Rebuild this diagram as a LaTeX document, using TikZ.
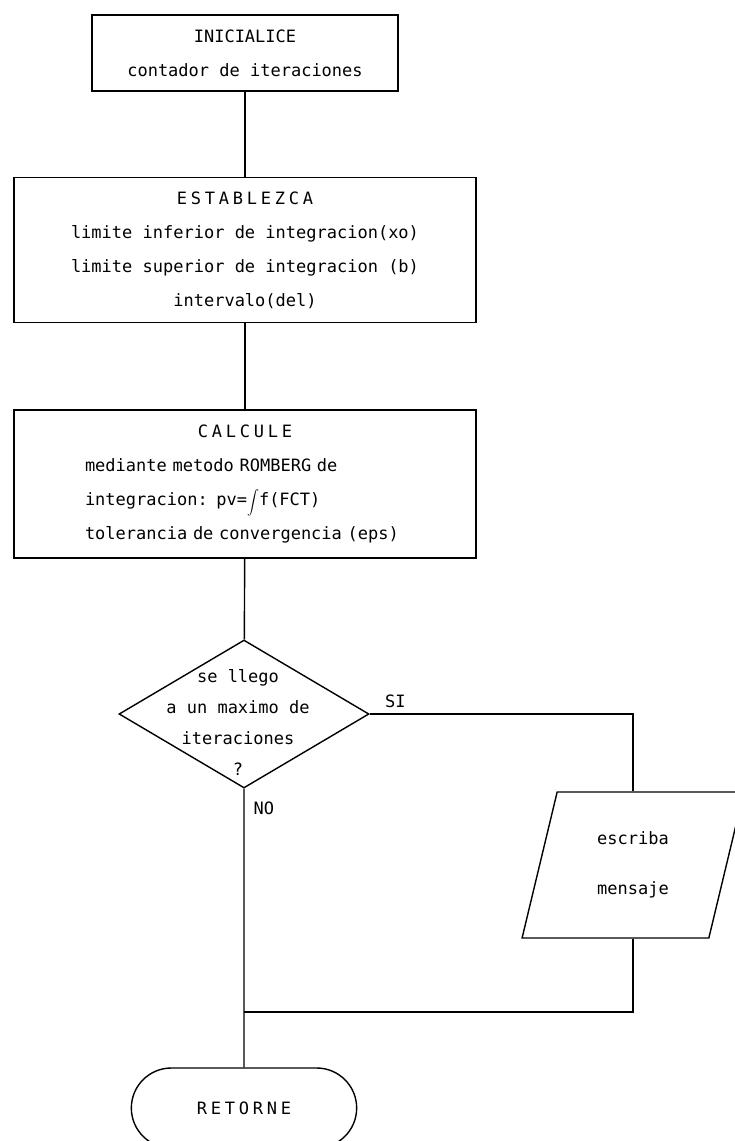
\documentclass[tikz,border=0pt]{standalone}
\usepackage{amsmath}
\usepackage{fontspec}
\setmonofont{DejaVu Sans Mono}
\newfontfamily\spacedfont{DejaVu Sans Mono}[LetterSpace=22]
\usetikzlibrary{shapes.geometric,shapes.misc,positioning}

\begin{document}
\begin{tikzpicture}[x=1pt, y=-1pt,
  every node/.style={font=\ttfamily\fontsize{17}{34}\selectfont},
  box/.style={draw, line width=1.4pt, rectangle, inner sep=0pt},
  decision/.style={draw, line width=1.4pt, diamond, inner sep=0pt, minimum width=250pt, minimum height=148pt},
  io/.style={draw, line width=1.4pt, trapezium, trapezium left angle=76, trapezium right angle=104, trapezium stretches=true, minimum width=222pt, minimum height=146pt, inner sep=0pt},
  term/.style={draw, line width=1.4pt, rounded rectangle, minimum width=232pt, minimum height=80pt},
  line/.style={line width=1.4pt}]
\useasboundingbox (0,0) rectangle (734,1141);
% Process boxes
\node[box, minimum width=306pt, minimum height=76pt, align=center] (ini) at (245,53) {INICIALICE\\contador de iteraciones};
\node[box, minimum width=462pt, minimum height=145pt, align=center] (est) at (245,250) {{\spacedfont ESTABLEZCA}\\limite inferior de integracion(xo)\\limite superior de integracion (b)\\intervalo(del)};
\node[box, minimum width=462pt, minimum height=148pt, text width=320pt, align=left] (cal) at (245,484) {\hfill{\spacedfont CALCULE}\hfill\null\\mediante metodo ROMBERG de\\integracion:  pv=\smash{{\fontsize{13}{13}\selectfont$\displaystyle\int$}}f(FCT)\\tolerancia de convergencia (eps)};
% Decision
\node[decision] (dec) at (244,714) {};
\node[align=center, font=\ttfamily\fontsize{17}{31}\selectfont] (dectext) at (238,722) {se llego\\a un maximo de\\iteraciones\\?};
\node[above right=3pt and 12pt of dec.east] (si) {SI};
\node[below right=10pt and 6pt of dec.south] (no) {NO};
% Output
\node[io, align=center] (msg) at (633,865) {escriba\\[16pt]mensaje};
% Terminal
\node[term] (ret) at (244,1108) {\spacedfont RETORNE};
% Connectors
\coordinate (join) at (244,1012);
\draw[line] (ini) -- (est);
\draw[line] (est) -- (cal);
\draw[line] (cal) -- (dec);
\draw[line] (dec) -- (ret);
\draw[line] (dec.east) -| (msg);
\draw[line] (msg) |- (join);
\end{tikzpicture}
\end{document}
